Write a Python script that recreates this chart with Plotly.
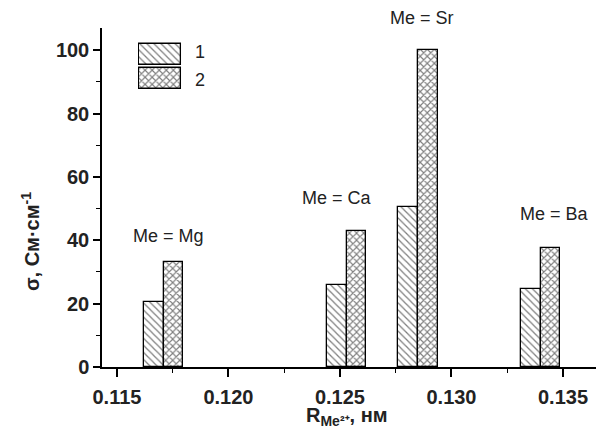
import plotly.graph_objects as go

# ---- data ----
radius = [0.1171, 0.1253, 0.1285, 0.1340]          # R(Me2+), nm (group centres)
metals = ["Mg", "Ca", "Sr", "Ba"]
series1 = [20.5, 26, 50.5, 24.5]
series2 = [33, 43, 100, 37.5]
series_names = ["1", "2"]
x_ticks = [0.115, 0.120, 0.125, 0.130, 0.135]
y_ticks = [0, 20, 40, 60, 80, 100]

# label placement (layout only)
label_pos_y = [0.386, 0.499, 1.03, 0.451]   # paper coords
label_shift_x = [5, -10, 4, 14]             # px

FONT = "Liberation Sans, Arial, sans-serif"
BW = 0.00088
PAT1 = dict(shape="\\", fgcolor="black", bgcolor="white", size=5, solidity=0.25)
PAT2 = dict(shape="x", fgcolor="black", bgcolor="white", size=5, solidity=0.4)
LINE = dict(color="black", width=1.3)

fig = go.Figure()
fig.add_trace(go.Bar(x=radius, y=series1, name=series_names[0], width=BW, offset=-BW,
                     marker=dict(color="white", line=LINE, pattern=PAT1), showlegend=False))
fig.add_trace(go.Bar(x=radius, y=series2, name=series_names[1], width=BW, offset=0,
                     marker=dict(color="white", line=LINE, pattern=PAT2), showlegend=False))

# legend swatches drawn as bars on a small hidden axis
fig.add_trace(go.Bar(y=[series_names[0]], x=[1], orientation="h", xaxis="x2", yaxis="y2",
                     width=0.86, marker=dict(color="white", line=LINE, pattern=PAT1),
                     showlegend=False, hoverinfo="skip"))
fig.add_trace(go.Bar(y=[series_names[1]], x=[1], orientation="h", xaxis="x2", yaxis="y2",
                     width=0.86, marker=dict(color="white", line=LINE, pattern=PAT2),
                     showlegend=False, hoverinfo="skip"))

annotations = []
for r, m, py, sx in zip(radius, metals, label_pos_y, label_shift_x):
    annotations.append(dict(x=r, y=py, xref="x", yref="paper", text=f"Me = {m}",
                            xshift=sx, showarrow=False, yanchor="middle",
                            font=dict(size=18, family=FONT, color="#222")))
for n, py in zip(series_names, [0.929, 0.847]):
    annotations.append(dict(x=0.185, y=py, xref="paper", yref="paper", text=n,
                            showarrow=False, xanchor="left", yanchor="middle",
                            font=dict(size=18, family=FONT, color="#222")))
annotations.append(dict(x=0.496, y=-0.103, xref="paper", yref="paper",
                        text="<b>R<sub>Me²⁺</sub>, нм</b>", showarrow=False, yanchor="top",
                        font=dict(size=20, family=FONT, color="#222")))
annotations.append(dict(x=-0.174, y=0.37, xref="paper", yref="paper",
                        text="<b>σ, См·см<sup>-1</sup></b>", showarrow=False, textangle=-90,
                        font=dict(size=20, family=FONT, color="#222")))

fig.update_layout(
    width=596, height=443,
    margin=dict(l=102, r=0, t=28, b=76),
    paper_bgcolor="white", plot_bgcolor="white",
    barmode="overlay", bargap=0,
    font=dict(family=FONT, color="#222"),
    annotations=annotations,
    xaxis=dict(range=[0.11433, 0.13648], tickvals=x_ticks,
               ticktext=[f"<b>{v:.3f}</b>" for v in x_ticks],
               showline=True, linecolor="black", linewidth=1.5,
               ticks="outside", ticklen=8, tickwidth=1.5, tickcolor="black",
               ticklabelstandoff=3,
               minor=dict(tickvals=[0.1175, 0.1225, 0.1275, 0.1325], ticks="outside",
                          ticklen=4, tickcolor="black", tickwidth=1.2),
               showgrid=False, zeroline=False,
               tickfont=dict(size=20, family=FONT, color="#222")),
    yaxis=dict(range=[0, 107], tickvals=y_ticks,
               ticktext=[f"<b>{v}</b>" for v in y_ticks],
               showline=True, linecolor="black", linewidth=1.5,
               ticks="outside", ticklen=7, tickwidth=1.5, tickcolor="black",
               minor=dict(tickvals=[10, 30, 50, 70, 90], ticks="outside",
                          ticklen=4, tickcolor="black", tickwidth=1.2),
               showgrid=False, zeroline=False,
               tickfont=dict(size=20, family=FONT, color="#222")),
    xaxis2=dict(domain=[0.0729, 0.162], range=[-0.03, 1.03], visible=False, anchor="y2"),
    yaxis2=dict(domain=[0.814, 0.959], range=[1.5, -0.5], visible=False, anchor="x2",
                type="category"),
)
fig.write_html("out.html", config={"displayModeBar": False},
               post_script="document.body.style.margin='0';")
